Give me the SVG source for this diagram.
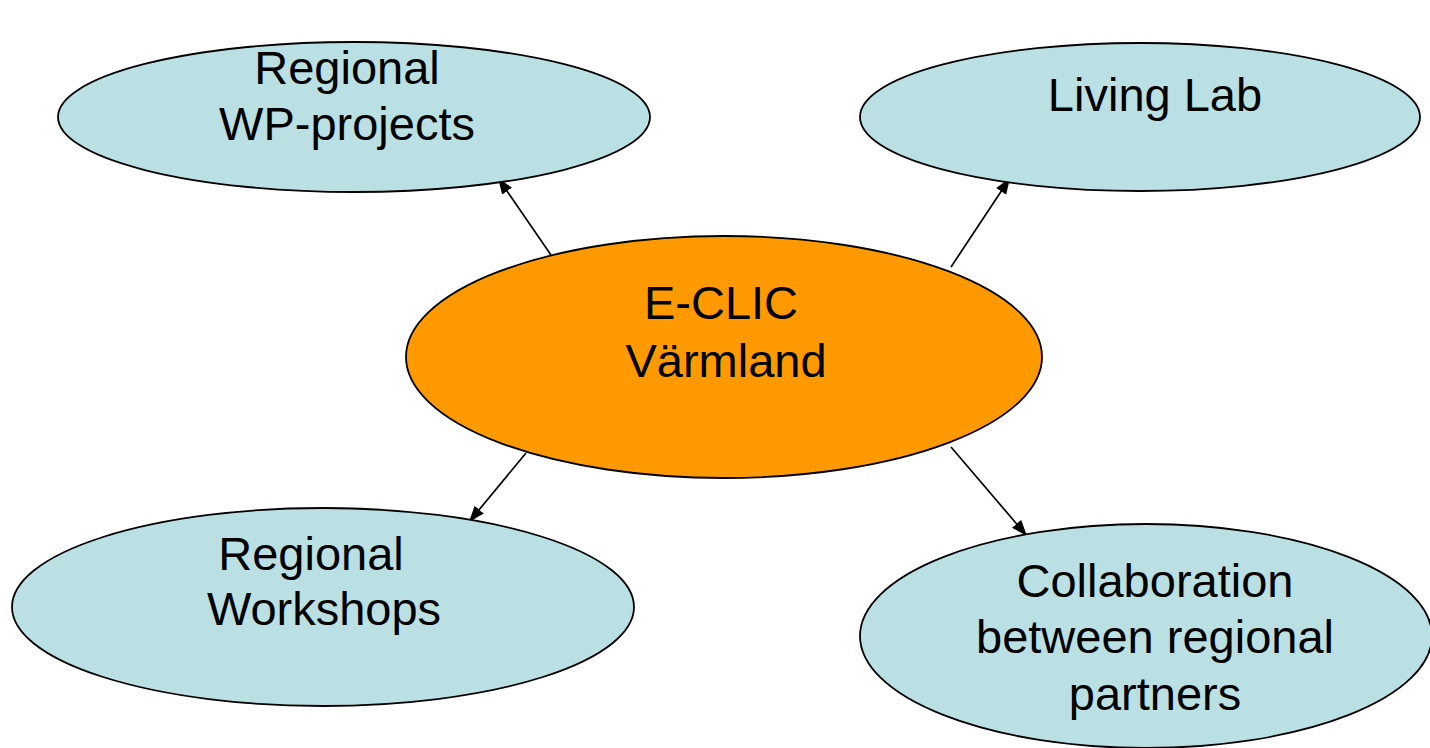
<svg xmlns="http://www.w3.org/2000/svg" width="1430" height="748" viewBox="0 0 1430 748">
<style>
.n{fill:#BBE0E3;stroke:#000;stroke-width:1.8}
.c{fill:#FF9900;stroke:#000;stroke-width:1.8}
.t{font-family:"Liberation Sans",Arial,sans-serif;font-size:47px;fill:#000;text-anchor:middle}
.e{stroke:#000;stroke-width:1.7;fill:none;marker-end:url(#ah)}
</style>
<defs>
<marker id="ah" markerUnits="userSpaceOnUse" markerWidth="17" markerHeight="13" refX="16" refY="6" orient="auto">
<path d="M0,0 L16,6 L0,12 z" fill="#000"/>
</marker>
</defs>
<rect width="1430" height="748" fill="#fff"/>
<g id="connectors">
<line class="e" x1="551" y1="255" x2="498" y2="178"/>
<line class="e" x1="951" y1="267" x2="1010" y2="178"/>
<line class="e" x1="526" y1="453" x2="469" y2="522"/>
<line class="e" x1="951" y1="447" x2="1027" y2="536"/>
</g>
<g id="wp">
<ellipse class="n" cx="354" cy="117" rx="296" ry="75"/>
<text class="t" x="347" y="84">Regional</text>
<text class="t" x="347" y="140">WP-projects</text>
</g>
<g id="livinglab">
<ellipse class="n" cx="1140" cy="117" rx="280" ry="74"/>
<text class="t" x="1155" y="111">Living Lab</text>
</g>
<g id="eclic">
<ellipse class="c" cx="724" cy="357" rx="318" ry="121"/>
<text class="t" x="721" y="319">E-CLIC</text>
<text class="t" x="726" y="377">Värmland</text>
</g>
<g id="workshops">
<ellipse class="n" cx="323" cy="607" rx="311" ry="99"/>
<text class="t" x="311" y="570">Regional</text>
<text class="t" x="324" y="625">Workshops</text>
</g>
<g id="collab">
<ellipse class="n" cx="1146" cy="636" rx="286" ry="112"/>
<text class="t" x="1155" y="597">Collaboration</text>
<text class="t" x="1155" y="653">between regional</text>
<text class="t" x="1155" y="710">partners</text>
</g>
</svg>
